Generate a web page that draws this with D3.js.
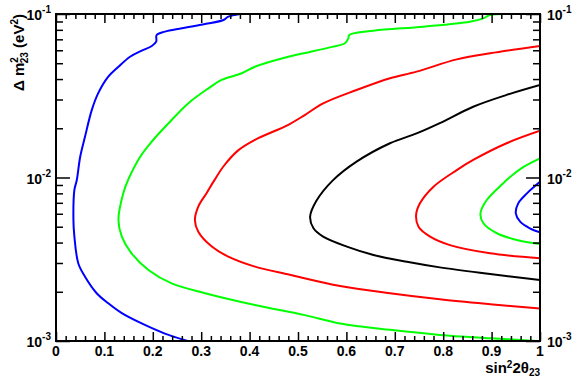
<!DOCTYPE html>
<html>
<head>
<meta charset="utf-8">
<script src="https://cdn.jsdelivr.net/npm/d3@7"></script>
<style>
  body { margin: 0; background: #fff; }
  text { font-family: "Liberation Sans", Arial, sans-serif; font-weight: bold; fill: #000; }
</style>
</head>
<body>
<div id="chart"></div>
<script>
// contour lines, points are [sin^2 2theta23, dm2_23 in eV^2]
const blueOuter = [
  [0.380, 0.1], [0.356, 0.0963], [0.346, 0.0919], [0.308, 0.0869], [0.260, 0.0818],
  [0.225, 0.0780], [0.208, 0.0744], [0.207, 0.0677], [0.198, 0.0637], [0.177, 0.0597],
  [0.153, 0.0548], [0.129, 0.0476], [0.108, 0.0414], [0.087, 0.0327], [0.074, 0.0259],
  [0.060, 0.0178], [0.050, 0.0134], [0.043, 0.00966], [0.038, 0.00839], [0.036, 0.00550],
  [0.038, 0.00435], [0.046, 0.00299], [0.060, 0.00247], [0.084, 0.00196], [0.108, 0.00170],
  [0.136, 0.00148], [0.177, 0.00128], [0.225, 0.00111], [0.272, 0.001]
];
const greenOuter = [
  [0.938, 0.1], [0.897, 0.0986], [0.883, 0.0941], [0.855, 0.0897], [0.759, 0.0836],
  [0.656, 0.0790], [0.606, 0.0744], [0.604, 0.0710], [0.597, 0.0662], [0.566, 0.0625],
  [0.518, 0.0580], [0.480, 0.0548], [0.411, 0.0476], [0.384, 0.0434], [0.342, 0.0395],
  [0.315, 0.0351], [0.273, 0.0284], [0.232, 0.0214], [0.198, 0.0166], [0.174, 0.0134],
  [0.149, 0.00966], [0.139, 0.00800], [0.129, 0.00550], [0.136, 0.00435], [0.156, 0.00344],
  [0.191, 0.00272], [0.239, 0.00225], [0.308, 0.00196], [0.411, 0.00166], [0.514, 0.00144],
  [0.587, 0.00128], [0.690, 0.00117], [0.793, 0.00109], [0.897, 0.00104], [0.993, 0.001]
];
const redOuter = [
  [1.0, 0.0637], [0.897, 0.0575], [0.828, 0.0528], [0.745, 0.0444], [0.690, 0.0405],
  [0.621, 0.0343], [0.552, 0.0284], [0.514, 0.0241], [0.480, 0.0210], [0.411, 0.0170],
  [0.377, 0.0147], [0.347, 0.0118], [0.327, 0.00960], [0.312, 0.00810], [0.294, 0.00664],
  [0.287, 0.00550], [0.294, 0.00466], [0.322, 0.00378], [0.356, 0.00328], [0.411, 0.00285],
  [0.483, 0.00254], [0.587, 0.00217], [0.690, 0.00196], [0.793, 0.00180], [0.897, 0.00168],
  [1.0, 0.00158]
];
const blackLine = [
  [1.0, 0.0368], [0.931, 0.0320], [0.862, 0.0271], [0.793, 0.0215], [0.745, 0.0186],
  [0.690, 0.0162], [0.621, 0.0125], [0.572, 0.00960], [0.538, 0.00720],
  [0.525, 0.00575], [0.532, 0.00489], [0.552, 0.00435], [0.601, 0.00378], [0.656, 0.00336],
  [0.725, 0.00305], [0.793, 0.00282], [0.897, 0.00257], [1.0, 0.00236]
];
const redInner = [
  [1.0, 0.0193], [0.931, 0.0162], [0.862, 0.0128], [0.828, 0.0111], [0.780, 0.00879],
  [0.752, 0.00695], [0.744, 0.00590], [0.749, 0.00500], [0.773, 0.00435], [0.814, 0.00386],
  [0.897, 0.00344], [1.0, 0.00321]
];
const greenInner = [
  [1.0, 0.0131], [0.966, 0.0116], [0.931, 0.00966], [0.924, 0.00922], [0.890, 0.00728],
  [0.877, 0.00604], [0.883, 0.00525], [0.911, 0.00456], [0.952, 0.00415], [1.0, 0.00392]
];
const blueInner = [
  [1.0, 0.00942], [0.973, 0.00800], [0.955, 0.00695], [0.950, 0.00604], [0.959, 0.00537],
  [0.979, 0.00489], [1.0, 0.00462]
];

const contours = [
  { pts: blueOuter, color: "#0000ff" },
  { pts: greenOuter, color: "#00ff00" },
  { pts: redOuter, color: "#ff0000" },
  { pts: blackLine, color: "#000000" },
  { pts: redInner, color: "#ff0000" },
  { pts: greenInner, color: "#00ff00" },
  { pts: blueInner, color: "#0000ff" }
];

const xMajor = [0, 0.1, 0.2, 0.3, 0.4, 0.5, 0.6, 0.7, 0.8, 0.9, 1];
const xLabels = ["0", "0.1", "0.2", "0.3", "0.4", "0.5", "0.6", "0.7", "0.8", "0.9", "1"];
const yDecades = [1e-3, 1e-2, 1e-1];
const yExponents = ["-3", "-2", "-1"];

const width = 573, height = 377;
const pLeft = 56, pRight = 540, pTop = 14, pBottom = 341;

const svg = d3.select("#chart").append("svg")
  .attr("width", width).attr("height", height);

const x = d3.scaleLinear().domain([0, 1]).range([pLeft, pRight]);
const y = d3.scaleLog().domain([1e-3, 1e-1]).range([pBottom, pTop]);

// minor tick values
const xMinor = d3.range(0, 51).map(i => i / 50).filter((v, i) => i % 5 !== 0);
const yMinor = [];
[1e-3, 1e-2].forEach(d => { for (let k = 2; k <= 9; k++) yMinor.push(d * k); });

svg.append("defs").append("clipPath").attr("id", "clip")
  .append("rect").attr("x", pLeft).attr("y", pTop)
  .attr("width", pRight - pLeft).attr("height", pBottom - pTop);

// contours
const line = d3.line()
  .x(d => x(d[0]))
  .y(d => y(d[1]))
  .curve(d3.curveCatmullRom.alpha(0.5));

svg.append("g").attr("clip-path", "url(#clip)")
  .selectAll("path")
  .data(contours)
  .enter()
  .append("path")
  .attr("d", d => line(d.pts))
  .attr("fill", "none")
  .attr("stroke", d => d.color)
  .attr("stroke-width", 2);

// axes: ticks only, labels drawn separately
function tickAxis(axis, vals, size, transform) {
  const g = svg.append("g").attr("transform", transform)
    .call(axis.tickValues(vals).tickSize(size).tickFormat(""));
  g.select(".domain").remove();
  g.selectAll("line").attr("stroke", "#000").attr("stroke-width", 1.5);
  return g;
}
tickAxis(d3.axisTop(x), xMajor, 9, `translate(0,${pBottom})`);
tickAxis(d3.axisTop(x), xMinor, 5, `translate(0,${pBottom})`);
tickAxis(d3.axisBottom(x), xMajor, 9, `translate(0,${pTop})`);
tickAxis(d3.axisBottom(x), xMinor, 5, `translate(0,${pTop})`);
tickAxis(d3.axisRight(y), yDecades, 14, `translate(${pLeft},0)`);
tickAxis(d3.axisRight(y), yMinor, 7, `translate(${pLeft},0)`);
tickAxis(d3.axisLeft(y), yDecades, 14, `translate(${pRight},0)`);
tickAxis(d3.axisLeft(y), yMinor, 7, `translate(${pRight},0)`);

// frame
svg.append("rect")
  .attr("x", pLeft).attr("y", pTop)
  .attr("width", pRight - pLeft).attr("height", pBottom - pTop)
  .attr("fill", "none").attr("stroke", "#000").attr("stroke-width", 2);

// x tick labels
svg.append("g").selectAll("text")
  .data(xMajor)
  .enter()
  .append("text")
  .attr("x", d => x(d))
  .attr("y", 356)
  .attr("text-anchor", "middle")
  .style("font-size", "14px")
  .text((d, i) => xLabels[i]);

// y tick labels (left and right)
function decadeLabel(xPos, anchor, d, i) {
  const t = svg.append("text")
    .attr("x", xPos).attr("y", y(d) + 6)
    .attr("text-anchor", anchor)
    .style("font-size", "14px");
  t.append("tspan").text("10");
  t.append("tspan").attr("dy", -7).style("font-size", "10px").text(yExponents[i]);
}
yDecades.forEach((d, i) => {
  decadeLabel(51, "end", d, i);
  decadeLabel(547, "start", d, i);
});

// x title
const xt = svg.append("text")
  .attr("x", pRight).attr("y", 373)
  .attr("text-anchor", "end")
  .style("font-size", "15px");
xt.append("tspan").text("sin");
xt.append("tspan").attr("dy", -5).style("font-size", "10px").text("2");
xt.append("tspan").attr("dy", 5).text("2\u03b8");
xt.append("tspan").attr("dy", 3).style("font-size", "10px").text("23");

// y title
const yt = svg.append("text")
  .attr("transform", `translate(24,${pTop}) rotate(-90)`)
  .attr("text-anchor", "end")
  .style("font-size", "15px");
yt.append("tspan").text("\u0394 m");
yt.append("tspan").attr("dy", -6).style("font-size", "10px").text("2");
yt.append("tspan").attr("dx", -6).attr("dy", 10).style("font-size", "10px").text("23");
yt.append("tspan").attr("dy", -4).text(" (eV");
yt.append("tspan").attr("dy", -6).style("font-size", "10px").text("2");
yt.append("tspan").attr("dy", 6).text(")");
</script>
</body>
</html>
